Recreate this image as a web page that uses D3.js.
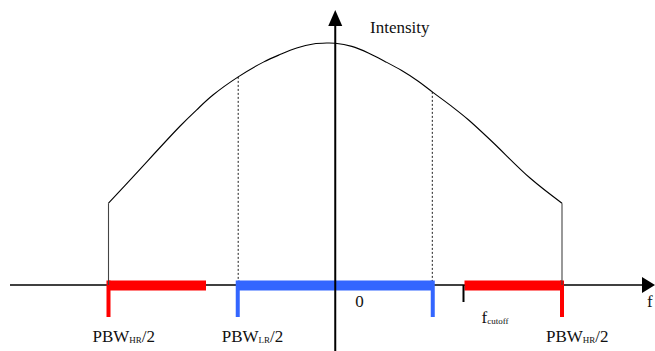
<!DOCTYPE html>
<meta charset="utf-8">
<head>
  <style>
    body { margin: 0; background: #fff; }
    svg { display: block; }
  </style>
</head>
<body>
<svg width="655" height="351"></svg>

<script src="https://cdn.jsdelivr.net/npm/d3@7"></script>
<script>

// intensity profile (f scaled so PBW_HR/2 = 1)
var curveF = [-1.0, -0.891, -0.685, -0.611, -0.538, -0.428, -0.317, -0.244, -0.170, -0.097, -0.038, 0.0,
              0.073, 0.146, 0.219, 0.293, 0.366, 0.428, 0.514, 0.587, 0.690, 0.859, 1.0];
var curveI = [0.338, 0.448, 0.656, 0.724, 0.786, 0.860, 0.921, 0.952, 0.979, 0.996, 1.0, 0.999,
              0.986, 0.959, 0.924, 0.886, 0.842, 0.798, 0.738, 0.683, 0.594, 0.442, 0.338];

// frequency bands
var bandStart = [-1.0, -0.43, 0.57];
var bandEnd   = [-0.57, 0.43, 1.0];
var bandColor = ['#ff0000', '#3366ff', '#ff0000'];

// band edge markers
var markF     = [-1.0, -0.43, 0.43, 1.0];
var markColor = ['#ff0000', '#3366ff', '#3366ff', '#ff0000'];

// dotted guides at PBW_LR/2
var guideF = [-0.428, 0.428];
var guideI = [0.860, 0.798];

var cutoffF = 0.57;

// tick labels: [main, subscript, tail]
var labelF    = [-1.0, -0.43, 1.0];
var labelMain = ['PBW', 'PBW', 'PBW'];
var labelSub  = ['HR', 'LR', 'HR'];
var labelTail = ['/2', '/2', '/2'];

var serif = "'Liberation Serif', 'Times New Roman', Times, 'DejaVu Serif', serif";

var x = d3.scaleLinear().domain([-1, 1]).range([108.5, 562]);
var y = d3.scaleLinear().domain([0, 1]).range([285, 43]);

var svg = d3.select("svg");
var axisY = y(0);

// horizontal axis
svg.append("line")
    .attr("x1", 10).attr("x2", 644)
    .attr("y1", axisY).attr("y2", axisY)
    .style("stroke", "#000").style("stroke-width", 1.6);
svg.append("path")
    .attr("d", "M642," + (axisY - 8) + "L655," + axisY + "L642," + (axisY + 8) + "Z")
    .style("fill", "#000");

// bands
svg.selectAll(".band")
    .data(bandStart)
  .enter().append("rect")
    .attr("class", "band")
    .attr("x", function(d) { return x(d); })
    .attr("width", function(d, i) { return x(bandEnd[i]) - x(d); })
    .attr("y", axisY - 4.5)
    .attr("height", 10)
    .style("fill", function(d, i) { return bandColor[i]; });

// band markers
svg.selectAll(".mark")
    .data(markF)
  .enter().append("rect")
    .attr("class", "mark")
    .attr("x", function(d) { return x(d) - 2; })
    .attr("width", 4)
    .attr("y", axisY - 4.5)
    .attr("height", 317 - (axisY - 4.5))
    .style("fill", function(d, i) { return markColor[i]; });

// cutoff tick
svg.append("line")
    .attr("x1", x(cutoffF) - 1).attr("x2", x(cutoffF) - 1)
    .attr("y1", axisY).attr("y2", 302)
    .style("stroke", "#000").style("stroke-width", 2);

// curve
var line = d3.line()
    .x(function(d) { return x(d[0]); })
    .y(function(d) { return y(d[1]); })
    .curve(d3.curveCatmullRom.alpha(0.5));

svg.append("path")
    .datum(curveF.map(function(f, i) { return [f, curveI[i]]; }))
    .attr("d", line)
    .style("fill", "none")
    .style("stroke", "#000")
    .style("stroke-width", 1.1);

// vertical edges of the profile
[0, curveF.length - 1].forEach(function(i) {
  svg.append("line")
      .attr("x1", x(curveF[i])).attr("x2", x(curveF[i]))
      .attr("y1", y(curveI[i])).attr("y2", axisY)
      .style("stroke", "#444").style("stroke-width", 1.1);
});

// dotted guides
svg.selectAll(".guide")
    .data(guideF)
  .enter().append("line")
    .attr("x1", function(d) { return x(d); })
    .attr("x2", function(d) { return x(d); })
    .attr("y1", function(d, i) { return y(guideI[i]); })
    .attr("y2", axisY - 4.5)
    .style("stroke", "#000")
    .style("stroke-width", 0.9)
    .style("stroke-dasharray", "2,2");

// vertical axis
svg.append("line")
    .attr("x1", x(0)).attr("x2", x(0))
    .attr("y1", 351).attr("y2", 22)
    .style("stroke", "#000").style("stroke-width", 2);
svg.append("path")
    .attr("d", "M" + (x(0) - 7) + ",26L" + x(0) + ",10L" + (x(0) + 7) + ",26Z")
    .style("fill", "#000");

// labels
function label(xp, yp) {
  return svg.append("text")
      .attr("x", xp).attr("y", yp)
      .style("font-family", serif)
      .style("font-size", "17px")
      .style("fill", "#111");
}

label(370, 33).text("Intensity");
label(x(0) + 20, 307).text("0");
label(647, 307).text("f");

var fc = label(x(cutoffF) + 17, 323);
fc.append("tspan").text("f");
fc.append("tspan").attr("dy", 1).style("font-size", "9px").text("cutoff");

labelF.forEach(function(f, i) {
  var t = label(x(f) - 16, 341.5);
  t.append("tspan").text(labelMain[i]);
  t.append("tspan").attr("dy", 1).style("font-size", "9px").text(labelSub[i]);
  t.append("tspan").attr("dy", -1).text(labelTail[i]);
});

</script>
</body>
